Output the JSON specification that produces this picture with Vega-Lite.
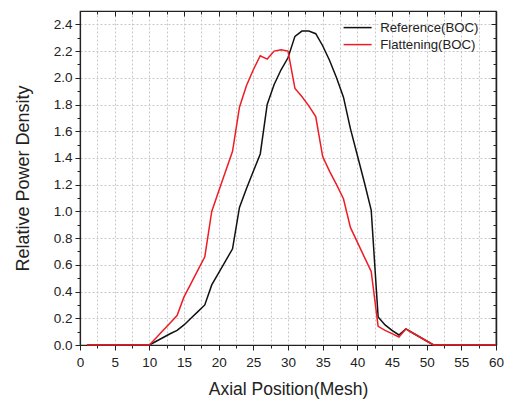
{
  "$schema": "https://vega.github.io/schema/vega-lite/v6.json",
  "width": 416,
  "height": 334,
  "autosize": "none",
  "padding": {"left": 80, "top": 11, "right": 9, "bottom": 56},
  "background": "white",
  "config": {
    "font": "Liberation Sans",
    "view": {"stroke": "#222", "strokeWidth": 1.2},
    "axis": {"labelFont": "Liberation Sans", "titleFont": "Liberation Sans", "labelColor": "#222", "titleColor": "#222", "domainColor": "#222", "tickColor": "#222"}
  },
  "data": {
    "values": [
      {"x":1,"v":0,"s":"Reference(BOC)"},{"x":2,"v":0,"s":"Reference(BOC)"},{"x":3,"v":0,"s":"Reference(BOC)"},{"x":4,"v":0,"s":"Reference(BOC)"},{"x":5,"v":0,"s":"Reference(BOC)"},{"x":6,"v":0,"s":"Reference(BOC)"},{"x":7,"v":0,"s":"Reference(BOC)"},{"x":8,"v":0,"s":"Reference(BOC)"},{"x":9,"v":0,"s":"Reference(BOC)"},{"x":10,"v":0,"s":"Reference(BOC)"},
      {"x":11,"v":0.028,"s":"Reference(BOC)"},{"x":12,"v":0.056,"s":"Reference(BOC)"},{"x":13,"v":0.084,"s":"Reference(BOC)"},{"x":14,"v":0.11,"s":"Reference(BOC)"},{"x":15,"v":0.15,"s":"Reference(BOC)"},{"x":16,"v":0.2,"s":"Reference(BOC)"},{"x":17,"v":0.25,"s":"Reference(BOC)"},{"x":18,"v":0.3,"s":"Reference(BOC)"},{"x":19,"v":0.45,"s":"Reference(BOC)"},{"x":20,"v":0.54,"s":"Reference(BOC)"},
      {"x":21,"v":0.63,"s":"Reference(BOC)"},{"x":22,"v":0.72,"s":"Reference(BOC)"},{"x":23,"v":1.03,"s":"Reference(BOC)"},{"x":24,"v":1.17,"s":"Reference(BOC)"},{"x":25,"v":1.3,"s":"Reference(BOC)"},{"x":26,"v":1.43,"s":"Reference(BOC)"},{"x":27,"v":1.8,"s":"Reference(BOC)"},{"x":28,"v":1.95,"s":"Reference(BOC)"},{"x":29,"v":2.06,"s":"Reference(BOC)"},{"x":30,"v":2.15,"s":"Reference(BOC)"},
      {"x":31,"v":2.31,"s":"Reference(BOC)"},{"x":32,"v":2.35,"s":"Reference(BOC)"},{"x":33,"v":2.35,"s":"Reference(BOC)"},{"x":34,"v":2.33,"s":"Reference(BOC)"},{"x":35,"v":2.24,"s":"Reference(BOC)"},{"x":36,"v":2.13,"s":"Reference(BOC)"},{"x":37,"v":2.0,"s":"Reference(BOC)"},{"x":38,"v":1.855,"s":"Reference(BOC)"},{"x":39,"v":1.62,"s":"Reference(BOC)"},{"x":40,"v":1.42,"s":"Reference(BOC)"},
      {"x":41,"v":1.22,"s":"Reference(BOC)"},{"x":42,"v":1.01,"s":"Reference(BOC)"},{"x":43,"v":0.21,"s":"Reference(BOC)"},{"x":44,"v":0.15,"s":"Reference(BOC)"},{"x":45,"v":0.11,"s":"Reference(BOC)"},{"x":46,"v":0.075,"s":"Reference(BOC)"},{"x":47,"v":0.12,"s":"Reference(BOC)"},{"x":48,"v":0.09,"s":"Reference(BOC)"},{"x":49,"v":0.06,"s":"Reference(BOC)"},{"x":50,"v":0.03,"s":"Reference(BOC)"},
      {"x":51,"v":0,"s":"Reference(BOC)"},{"x":52,"v":0,"s":"Reference(BOC)"},{"x":53,"v":0,"s":"Reference(BOC)"},{"x":54,"v":0,"s":"Reference(BOC)"},{"x":55,"v":0,"s":"Reference(BOC)"},{"x":56,"v":0,"s":"Reference(BOC)"},{"x":57,"v":0,"s":"Reference(BOC)"},{"x":58,"v":0,"s":"Reference(BOC)"},{"x":59,"v":0,"s":"Reference(BOC)"},{"x":60,"v":0,"s":"Reference(BOC)"},
      {"x":1,"v":0,"s":"Flattening(BOC)"},{"x":2,"v":0,"s":"Flattening(BOC)"},{"x":3,"v":0,"s":"Flattening(BOC)"},{"x":4,"v":0,"s":"Flattening(BOC)"},{"x":5,"v":0,"s":"Flattening(BOC)"},{"x":6,"v":0,"s":"Flattening(BOC)"},{"x":7,"v":0,"s":"Flattening(BOC)"},{"x":8,"v":0,"s":"Flattening(BOC)"},{"x":9,"v":0,"s":"Flattening(BOC)"},{"x":10,"v":0,"s":"Flattening(BOC)"},
      {"x":11,"v":0.055,"s":"Flattening(BOC)"},{"x":12,"v":0.11,"s":"Flattening(BOC)"},{"x":13,"v":0.165,"s":"Flattening(BOC)"},{"x":14,"v":0.22,"s":"Flattening(BOC)"},{"x":15,"v":0.36,"s":"Flattening(BOC)"},{"x":16,"v":0.46,"s":"Flattening(BOC)"},{"x":17,"v":0.56,"s":"Flattening(BOC)"},{"x":18,"v":0.66,"s":"Flattening(BOC)"},{"x":19,"v":1.0,"s":"Flattening(BOC)"},{"x":20,"v":1.15,"s":"Flattening(BOC)"},
      {"x":21,"v":1.3,"s":"Flattening(BOC)"},{"x":22,"v":1.45,"s":"Flattening(BOC)"},{"x":23,"v":1.78,"s":"Flattening(BOC)"},{"x":24,"v":1.94,"s":"Flattening(BOC)"},{"x":25,"v":2.06,"s":"Flattening(BOC)"},{"x":26,"v":2.165,"s":"Flattening(BOC)"},{"x":27,"v":2.14,"s":"Flattening(BOC)"},{"x":28,"v":2.2,"s":"Flattening(BOC)"},{"x":29,"v":2.21,"s":"Flattening(BOC)"},{"x":30,"v":2.2,"s":"Flattening(BOC)"},
      {"x":31,"v":1.92,"s":"Flattening(BOC)"},{"x":32,"v":1.86,"s":"Flattening(BOC)"},{"x":33,"v":1.79,"s":"Flattening(BOC)"},{"x":34,"v":1.71,"s":"Flattening(BOC)"},{"x":35,"v":1.41,"s":"Flattening(BOC)"},{"x":36,"v":1.3,"s":"Flattening(BOC)"},{"x":37,"v":1.2,"s":"Flattening(BOC)"},{"x":38,"v":1.095,"s":"Flattening(BOC)"},{"x":39,"v":0.88,"s":"Flattening(BOC)"},{"x":40,"v":0.77,"s":"Flattening(BOC)"},
      {"x":41,"v":0.66,"s":"Flattening(BOC)"},{"x":42,"v":0.55,"s":"Flattening(BOC)"},{"x":43,"v":0.14,"s":"Flattening(BOC)"},{"x":44,"v":0.11,"s":"Flattening(BOC)"},{"x":45,"v":0.085,"s":"Flattening(BOC)"},{"x":46,"v":0.06,"s":"Flattening(BOC)"},{"x":47,"v":0.12,"s":"Flattening(BOC)"},{"x":48,"v":0.09,"s":"Flattening(BOC)"},{"x":49,"v":0.06,"s":"Flattening(BOC)"},{"x":50,"v":0.03,"s":"Flattening(BOC)"},
      {"x":51,"v":0,"s":"Flattening(BOC)"},{"x":52,"v":0,"s":"Flattening(BOC)"},{"x":53,"v":0,"s":"Flattening(BOC)"},{"x":54,"v":0,"s":"Flattening(BOC)"},{"x":55,"v":0,"s":"Flattening(BOC)"},{"x":56,"v":0,"s":"Flattening(BOC)"},{"x":57,"v":0,"s":"Flattening(BOC)"},{"x":58,"v":0,"s":"Flattening(BOC)"},{"x":59,"v":0,"s":"Flattening(BOC)"},{"x":60,"v":0,"s":"Flattening(BOC)"}
    ]
  },
  "resolve": {"axis": {"x": "independent", "y": "independent"}},
  "layer": [
    {
      "mark": {"type": "line", "strokeWidth": 1.5},
      "encoding": {
        "x": {
          "field": "x", "type": "quantitative",
          "scale": {"domain": [0, 60], "nice": false, "zero": false},
          "axis": {
            "title": "Axial Position(Mesh)", "titleFontSize": 17.5, "titleFontWeight": "normal", "titlePadding": 12,
            "values": [0,2.5,5,7.5,10,12.5,15,17.5,20,22.5,25,27.5,30,32.5,35,37.5,40,42.5,45,47.5,50,52.5,55,57.5,60],
            "labelExpr": "datum.value % 5 === 0 ? datum.label : ''",
            "labelOverlap": false, "labelFontSize": 13.5, "labelPadding": 5, "labelFlush": false,
            "tickSize": {"condition": {"test": "datum.value % 5 === 0", "value": 5}, "value": 3},
            "grid": true, "gridColor": "#c8c8c8", "gridDash": [2, 2], "gridWidth": 1,
            "domain": true, "domainWidth": 1.2
          }
        },
        "y": {
          "field": "v", "type": "quantitative",
          "scale": {"domain": [0, 2.5], "nice": false},
          "axis": {
            "title": "Relative Power Density", "titleFontSize": 18, "titleFontWeight": "normal", "titlePadding": 21,
            "values": [0,0.1,0.2,0.3,0.4,0.5,0.6,0.7,0.8,0.9,1.0,1.1,1.2,1.3,1.4,1.5,1.6,1.7,1.8,1.9,2.0,2.1,2.2,2.3,2.4],
            "format": ".1f",
            "labelExpr": "round(datum.value * 10) % 2 === 0 ? datum.label : ''",
            "labelOverlap": false, "labelFontSize": 13.5, "labelPadding": 3,
            "tickSize": {"condition": {"test": "round(datum.value * 10) % 2 === 0", "value": 5}, "value": 3},
            "grid": true, "gridColor": "#c8c8c8", "gridDash": [2, 2], "gridWidth": 1,
            "gridOpacity": {"condition": {"test": "round(datum.value * 10) % 2 === 0", "value": 1}, "value": 0},
            "domain": true, "domainWidth": 1.2
          }
        },
        "color": {
          "field": "s", "type": "nominal",
          "scale": {"domain": ["Reference(BOC)", "Flattening(BOC)"], "range": ["#111111", "#ee1c24"]},
          "legend": {
            "title": null, "orient": "none", "legendX": 271, "legendY": 10,
            "symbolType": "M-3.5,0H3.5", "symbolSize": 64, "symbolStrokeWidth": 1.5,
            "labelFontSize": 13.2, "labelColor": "#222", "labelFont": "Liberation Sans", "labelOffset": 16,
            "rowPadding": 3
          }
        }
      }
    },
    {
      "mark": {"type": "line", "strokeOpacity": 0},
      "encoding": {
        "x": {
          "field": "x", "type": "quantitative",
          "axis": {
            "orient": "top", "title": null, "labels": false, "grid": false,
            "values": [0,2.5,5,7.5,10,12.5,15,17.5,20,22.5,25,27.5,30,32.5,35,37.5,40,42.5,45,47.5,50,52.5,55,57.5,60],
            "tickSize": {"condition": {"test": "datum.value % 5 === 0", "value": -5}, "value": -3},
            "domainWidth": 1.2
          }
        },
        "y": {
          "field": "v", "type": "quantitative",
          "axis": {
            "orient": "right", "title": null, "labels": false, "grid": false,
            "values": [0,0.1,0.2,0.3,0.4,0.5,0.6,0.7,0.8,0.9,1.0,1.1,1.2,1.3,1.4,1.5,1.6,1.7,1.8,1.9,2.0,2.1,2.2,2.3,2.4],
            "tickSize": {"condition": {"test": "round(datum.value * 10) % 2 === 0", "value": -5}, "value": -3},
            "domainWidth": 1.5
          }
        },
        "detail": {"field": "s", "type": "nominal"}
      }
    }
  ]
}
